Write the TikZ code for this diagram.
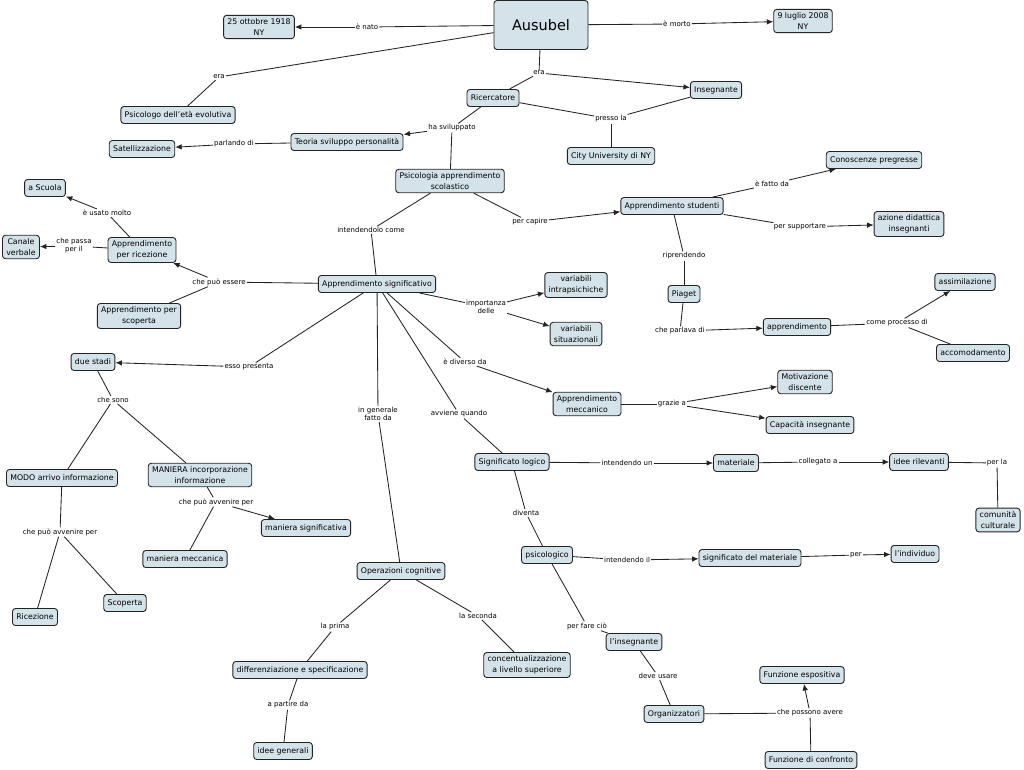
\documentclass[tikz,border=0pt]{standalone}
\usepackage{fontspec}
\setmainfont{DejaVu Sans}
\usetikzlibrary{arrows.meta}
\definecolor{cfill}{RGB}{212,226,233}
\definecolor{cline}{RGB}{35,35,35}
\tikzset{
 concept/.style={draw=cline, fill=cfill, rounded corners=3pt, line width=0.9pt,
   font=\fontsize{7.8}{11}\selectfont, align=center, inner xsep=3.8pt, inner ysep=3.2pt, minimum height=17pt},
 lbl/.style={font=\fontsize{7}{8}\selectfont, align=center, inner sep=1pt},
 con/.style={draw=cline, line width=0.85pt},
 arr/.style={con, -{Latex[length=6.5pt,width=5.5pt]}},
}
\begin{document}
\begin{tikzpicture}[x=1pt,y=-1pt]
\useasboundingbox (0,0) rectangle (1024,770);
% concepts
\node[concept, font=\fontsize{14.5}{16}\selectfont, minimum width=94pt, minimum height=49pt] (ausubel) at (541,25) {Ausubel};
\node[concept] (nato) at (259,27) {25 ottobre 1918\\NY};
\node[concept] (morto) at (803,21) {9 luglio 2008\\NY};
\node[concept] (psicologo) at (178,115) {Psicologo dell'età evolutiva};
\node[concept] (ricerc) at (493,98) {Ricercatore};
\node[concept] (insegn) at (716,90) {Insegnante};
\node[concept] (cityu) at (611,156) {City University di NY};
\node[concept] (teoria) at (347,142) {Teoria sviluppo personalità};
\node[concept] (satell) at (142,149) {Satellizzazione};
\node[concept] (psap) at (450,181) {Psicologia apprendimento\\scolastico};
\node[concept] (scuola) at (45,188) {a Scuola};
\node[concept] (canale) at (21,247) {Canale\\verbale};
\node[concept] (ricez) at (142,250) {Apprendimento\\per ricezione};
\node[concept] (apsig) at (377,284) {Apprendimento significativo};
\node[concept] (scoperta) at (139,316) {Apprendimento per\\scoperta};
\node[concept] (duestadi) at (93,362) {due stadi};
\node[concept] (modo) at (62,478) {MODO arrivo informazione};
\node[concept] (maniera) at (200,475) {MANIERA incorporazione\\informazione};
\node[concept] (mansig) at (306,528) {maniera significativa};
\node[concept] (manmecc) at (185,559) {maniera meccanica};
\node[concept] (ricezione) at (35,617) {Ricezione};
\node[concept] (scoperta2) at (125,603) {Scoperta};
\node[concept] (opcog) at (401,571) {Operazioni cognitive};
\node[concept] (diff) at (300,670) {differenziazione e specificazione};
\node[concept] (ideegen) at (283,751) {idee generali};
\node[concept] (concet) at (527,665) {concentualizzazione\\a livello superiore};
\node[concept] (siglog) at (512,462) {Significato logico};
\node[concept] (materiale) at (736,463) {materiale};
\node[concept] (idril) at (919,462) {idee rilevanti};
\node[concept] (comunita) at (998,520) {comunità\\culturale};
\node[concept] (psicol) at (547,555) {psicologico};
\node[concept] (sigmat) at (750,558) {significato del materiale};
\node[concept] (individuo) at (915,554) {l'individuo};
\node[concept] (linsegn) at (634,642) {l'insegnante};
\node[concept] (organ) at (674,714) {Organizzatori};
\node[concept] (funzesp) at (802,675) {Funzione espositiva};
\node[concept] (funzconf) at (811,760) {Funzione di confronto};
\node[concept] (apmecc) at (587,404) {Apprendimento\\meccanico};
\node[concept] (motiv) at (805,382) {Motivazione\\discente};
\node[concept] (capac) at (810,425) {Capacità insegnante};
\node[concept] (apstud) at (672,206) {Apprendimento studenti};
\node[concept] (conosc) at (874,160) {Conoscenze pregresse};
\node[concept] (azione) at (909,224) {azione didattica\\insegnanti};
\node[concept] (piaget) at (684,294) {Piaget};
\node[concept] (appr) at (797,327) {apprendimento};
\node[concept] (assim) at (965,282) {assimilazione};
\node[concept] (accom) at (973,353) {accomodamento};
\node[concept] (varintra) at (576,285) {variabili\\intrapsichiche};
\node[concept] (varsit) at (576,334) {variabili\\situazionali};
% link labels
\node[lbl] (lnato) at (367,27) {è nato};
\node[lbl] (lmorto) at (677,24) {è morto};
\node[lbl] (lera1) at (219,77) {era};
\node[lbl] (lera2) at (539,73) {era};
\node[lbl] (lpresso) at (611,119) {presso la};
\node[lbl] (lhasv) at (452,128) {ha sviluppato};
\node[lbl] (lparl) at (234,144) {parlando di};
\node[lbl] (linten) at (371,230) {intendendolo come};
\node[lbl] (lcapire) at (530,222) {per capire};
\node[lbl] (lfatto) at (772,184) {è fatto da};
\node[lbl] (lsupp) at (800,227) {per supportare};
\node[lbl] (lripr) at (684,256) {riprendendo};
\node[lbl] (lparlava) at (680,331) {che parlava di};
\node[lbl] (lproc) at (897,323) {come processo di};
\node[lbl] (limp) at (486,307) {importanza\\delle};
\node[lbl] (lpuo) at (219,282) {che può essere};
\node[lbl] (lusato) at (107,213) {è usato molto};
\node[lbl] (lpassa) at (74,246) {che passa\\per il};
\node[lbl] (lesso) at (249,367) {esso presenta};
\node[lbl] (lgen) at (378,414) {in generale\\fatto da};
\node[lbl] (lavv) at (459,414) {avviene quando};
\node[lbl] (ldiv) at (465,362) {è diverso da};
\node[lbl] (lgrazie) at (672,404) {grazie a};
\node[lbl] (lsono) at (113,400) {che sono};
\node[lbl] (lavv1) at (60,532) {che può avvenire per};
\node[lbl] (lavv2) at (216,502) {che può avvenire per};
\node[lbl] (lprima) at (335,627) {la prima};
\node[lbl] (lseconda) at (478,616) {la seconda};
\node[lbl] (lpart) at (288,705) {a partire da};
\node[lbl] (lintun) at (627,463) {intendendo un};
\node[lbl] (lcoll) at (818,462) {collegato a};
\node[lbl] (lperla) at (997,463) {per la};
\node[lbl] (ldiventa) at (526,513) {diventa};
\node[lbl] (lintil) at (627,560) {intendendo il};
\node[lbl] (lper) at (856,555) {per};
\node[lbl] (lfare) at (587,626) {per fare ciò};
\node[lbl] (ldeve) at (658,676) {deve usare};
\node[lbl] (lposs) at (810,713) {che possono avere};
% connectors
\draw[con] (ausubel) -- (lnato); \draw[arr] (lnato) -- (nato);
\draw[con] (ausubel) -- (lmorto); \draw[arr] (lmorto) -- (morto);
\draw[con] (ausubel) -- (lera1); \draw[con] (lera1) -- (psicologo);
\draw[con] (ausubel) -- (lera2); \draw[con] (lera2) -- (ricerc); \draw[arr] (lera2) -- (insegn);
\draw[con] (ricerc) -- (lpresso); \draw[con] (insegn) -- (lpresso); \draw[con] (lpresso) -- (cityu);
\draw[con] (ricerc) -- (lhasv); \draw[arr] (lhasv) -- (teoria); \draw[con] (lhasv) -- (psap);
\draw[con] (teoria) -- (lparl); \draw[arr] (lparl) -- (satell);
\draw[con] (psap) -- (linten); \draw[con] (linten) -- (apsig);
\draw[con] (psap) -- (lcapire); \draw[arr] (lcapire) -- (apstud);
\draw[con] (apstud) -- (lfatto); \draw[arr] (lfatto) -- (conosc);
\draw[con] (apstud) -- (lsupp); \draw[arr] (lsupp) -- (azione);
\draw[con] (apstud) -- (lripr); \draw[con] (lripr) -- (piaget);
\draw[con] (piaget) -- (lparlava); \draw[arr] (lparlava) -- (appr);
\draw[con] (appr) -- (lproc); \draw[arr] (lproc) -- (assim); \draw[con] (lproc) -- (accom);
\draw[con] (apsig) -- (limp); \draw[arr] (limp) -- (varintra); \draw[arr] (limp) -- (varsit);
\draw[con] (apsig) -- (lpuo); \draw[arr] (lpuo) -- (ricez); \draw[con] (lpuo) -- (scoperta);
\draw[con] (ricez) -- (lusato); \draw[arr] (lusato) -- (scuola);
\draw[con] (ricez) -- (lpassa); \draw[arr] (lpassa) -- (canale);
\draw[con] (apsig) -- (lesso); \draw[arr] (lesso) -- (duestadi);
\draw[con] (apsig) -- (lgen); \draw[con] (lgen) -- (opcog);
\draw[con] (apsig) -- (lavv); \draw[con] (lavv) -- (siglog);
\draw[con] (apsig) -- (ldiv); \draw[arr] (ldiv) -- (apmecc);
\draw[con] (apmecc) -- (lgrazie); \draw[arr] (lgrazie) -- (motiv); \draw[arr] (lgrazie) -- (capac);
\draw[con] (duestadi) -- (lsono); \draw[con] (lsono) -- (modo); \draw[con] (lsono) -- (maniera);
\draw[con] (modo) -- (lavv1); \draw[con] (lavv1) -- (ricezione); \draw[con] (lavv1) -- (scoperta2);
\draw[con] (maniera) -- (lavv2); \draw[arr] (lavv2) -- (mansig); \draw[con] (lavv2) -- (manmecc);
\draw[con] (opcog) -- (lprima); \draw[con] (lprima) -- (diff);
\draw[con] (opcog) -- (lseconda); \draw[con] (lseconda) -- (concet);
\draw[con] (diff) -- (lpart); \draw[con] (lpart) -- (ideegen);
\draw[con] (siglog) -- (lintun); \draw[arr] (lintun) -- (materiale);
\draw[con] (materiale) -- (lcoll); \draw[arr] (lcoll) -- (idril);
\draw[con] (idril) -- (lperla); \draw[con] (lperla) -- (comunita);
\draw[con] (siglog) -- (ldiventa); \draw[con] (ldiventa) -- (psicol);
\draw[con] (psicol) -- (lintil); \draw[arr] (lintil) -- (sigmat);
\draw[con] (sigmat) -- (lper); \draw[arr] (lper) -- (individuo);
\draw[con] (psicol) -- (lfare); \draw[con] (lfare) -- (linsegn);
\draw[con] (linsegn) -- (ldeve); \draw[con] (ldeve) -- (organ);
\draw[con] (organ) -- (lposs); \draw[con] (funzconf) -- (lposs); \draw[arr] (lposs) -- (funzesp);
\end{tikzpicture}
\end{document}
